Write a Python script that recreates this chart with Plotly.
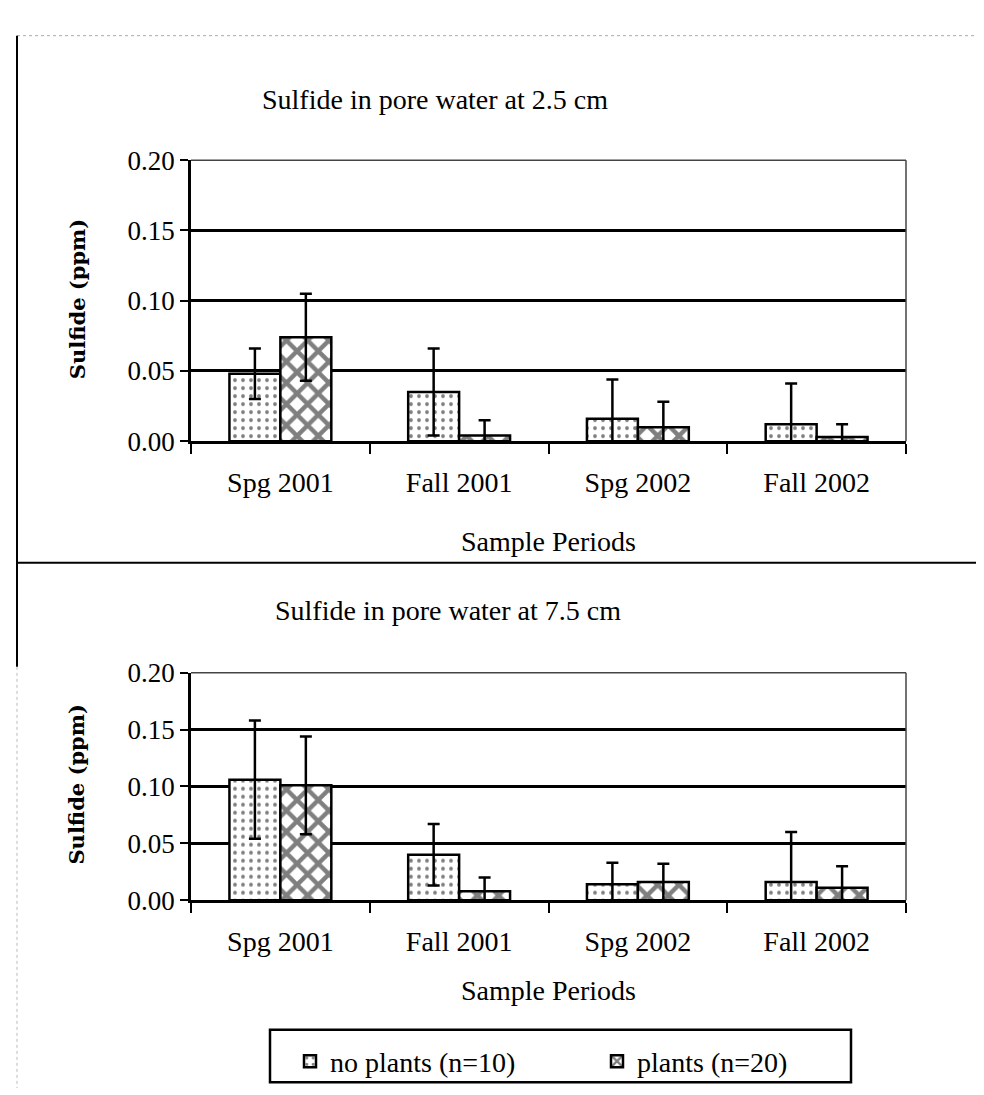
import plotly.graph_objects as go

categories = ["Spg 2001", "Fall 2001", "Spg 2002", "Fall 2002"]

# 2.5 cm depth
top_noplants = [0.048, 0.035, 0.016, 0.012]
top_noplants_err = [0.018, 0.031, 0.028, 0.029]
top_plants = [0.074, 0.004, 0.010, 0.003]
top_plants_err = [0.031, 0.011, 0.018, 0.009]

# 7.5 cm depth
bot_noplants = [0.106, 0.040, 0.014, 0.016]
bot_noplants_err = [0.052, 0.027, 0.019, 0.044]
bot_plants = [0.101, 0.008, 0.016, 0.011]
bot_plants_err = [0.043, 0.012, 0.016, 0.019]

series_names = ["no plants (n=10)", "plants (n=20)"]
y_ticks = [0.00, 0.05, 0.10, 0.15, 0.20]

W, H = 984, 1095
SERIF = "Liberation Serif, Times New Roman, serif"

fig = go.Figure()

def add_bars(xa, ya, vals_np, err_np, vals_p, err_p, show):
    fig.add_trace(go.Bar(
        x=categories, y=vals_np, name=series_names[0], xaxis=xa, yaxis=ya,
        marker=dict(color="white", line=dict(color="black", width=2.5),
                    pattern=dict(shape=".", fgcolor="black", bgcolor="white",
                                 size=8, solidity=0.18)),
        error_y=dict(type="data", array=err_np, color="black", thickness=2.5, width=6),
        showlegend=show, legendgroup="np"))
    fig.add_trace(go.Bar(
        x=categories, y=vals_p, name=series_names[1], xaxis=xa, yaxis=ya,
        marker=dict(color="white", line=dict(color="black", width=2.5),
                    pattern=dict(shape="x", fgcolor="black", bgcolor="white",
                                 size=15, solidity=0.5)),
        error_y=dict(type="data", array=err_p, color="black", thickness=2.5, width=6),
        showlegend=show, legendgroup="p"))

add_bars("x", "y", top_noplants, top_noplants_err, top_plants, top_plants_err, True)
add_bars("x2", "y2", bot_noplants, bot_noplants_err, bot_plants, bot_plants_err, False)

def py(pix):
    return 1 - pix / H

def px(pix):
    return pix / W

xdom = [px(183), px(898)]
xcommon = dict(domain=xdom, showline=True, linecolor="black", linewidth=2.5,
               ticks="outside", ticklen=10, tickwidth=2, tickcolor="black",
               tickson="boundaries", showgrid=False,
               tickfont=dict(family=SERIF, size=28, color="black"),
               ticklabelstandoff=14)
ycommon = dict(range=[0, 0.2], tickvals=y_ticks, tickformat=".2f",
               showline=True, linecolor="black", linewidth=2.5,
               ticks="outside", ticklen=8, tickwidth=2, tickcolor="black",
               showgrid=True, gridcolor="black", gridwidth=2.5, zeroline=False,
               tickfont=dict(family=SERIF, size=27, color="black"))

fig.update_layout(
    width=W, height=H, margin=dict(l=0, r=0, t=0, b=0),
    paper_bgcolor="white", plot_bgcolor="white",
    barmode="group", bargap=0.43, bargroupgap=0,
    xaxis=dict(anchor="y", **xcommon),
    yaxis=dict(domain=[py(430), py(141)], anchor="x", **ycommon),
    xaxis2=dict(anchor="y2", **xcommon),
    yaxis2=dict(domain=[py(902), py(668)], anchor="x2", **ycommon),
    legend=dict(orientation="h", x=px(282), y=py(1042), xanchor="left", yanchor="top",
                borderwidth=0, bgcolor="rgba(0,0,0,0)",
                font=dict(family=SERIF, size=28, color="black"),
                entrywidth=262, entrywidthmode="pixels",
                traceorder="normal"),
    showlegend=True,
)

ann = []
def text(x, y, s, size=28, family=SERIF, angle=0, bold=False):
    ann.append(dict(x=px(x), y=py(y), xref="paper", yref="paper", showarrow=False,
                    text=("<b>%s</b>" % s) if bold else s, textangle=angle,
                    font=dict(family=family, size=size, color="black"),
                    xanchor="center", yanchor="middle"))

text(427, 79, "Sulfide in pore water at 2.5 cm", size=28)
text(440, 604, "Sulfide in pore water at 7.5 cm", size=28)
text(540, 533, "Sample Periods", size=28)
text(540, 995, "Sample Periods", size=28)
text(69, 284, "Sulfide (ppm)", size=21, family="DejaVu Serif", angle=-90, bold=True)
text(69, 783, "Sulfide (ppm)", size=21, family="DejaVu Serif", angle=-90, bold=True)
fig.update_layout(annotations=ann)

shapes = [
    # thin frame top/right edges of plot areas
    dict(type="line", xref="x domain", yref="y domain", x0=1, x1=1, y0=0, y1=1,
         line=dict(color="#444", width=1.5)),
    dict(type="line", xref="x domain", yref="y domain", x0=0, x1=1, y0=1, y1=1,
         line=dict(color="#444", width=1.5)),
    dict(type="line", xref="x2 domain", yref="y2 domain", x0=1, x1=1, y0=0, y1=1,
         line=dict(color="#444", width=1.5)),
    dict(type="line", xref="x2 domain", yref="y2 domain", x0=0, x1=1, y0=1, y1=1,
         line=dict(color="#444", width=1.5)),
    # legend box
    dict(type="rect", xref="paper", yref="paper", x0=px(262), x1=px(843),
         y0=py(1089), y1=py(1035), line=dict(color="black", width=2.5)),
    # page borders
    dict(type="line", xref="paper", yref="paper", x0=px(9), x1=1, y0=py(13), y1=py(13),
         line=dict(color="#aaa", width=1, dash="dot")),
    dict(type="line", xref="paper", yref="paper", x0=px(9), x1=px(9), y0=py(13), y1=py(662),
         line=dict(color="black", width=2)),
    dict(type="line", xref="paper", yref="paper", x0=px(9), x1=px(9), y0=py(662), y1=0,
         line=dict(color="#bbb", width=1, dash="dot")),
    dict(type="line", xref="paper", yref="paper", x0=px(9), x1=1, y0=py(555), y1=py(555),
         line=dict(color="black", width=2)),
]
fig.update_layout(shapes=shapes)

fig.write_html("out.html")
